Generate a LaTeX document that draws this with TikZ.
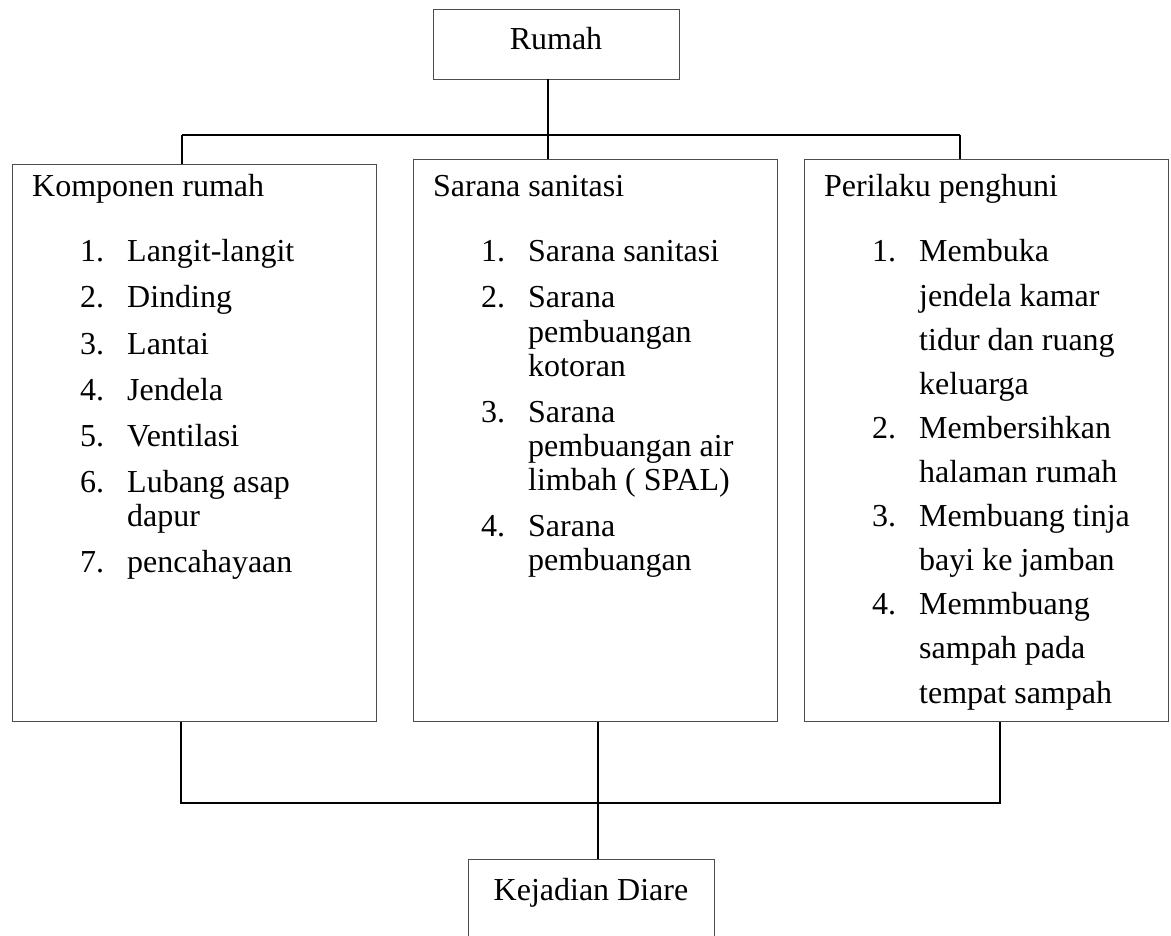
\documentclass[tikz,border=0pt]{standalone}
\usepackage{fontspec}
\setmainfont{Liberation Serif}
\begin{document}
\begin{tikzpicture}[x=1pt,y=-1pt,
  box/.style={draw=black!70, line width=1.3pt, inner sep=0pt, anchor=north west},
  conn/.style={draw=black, line width=1.5pt},
  txt/.style={anchor=base west, inner sep=0pt, font=\fontsize{32}{38}\selectfont},
  ctxt/.style={anchor=base, inner sep=0pt, font=\fontsize{32}{38}\selectfont}]
\useasboundingbox (0,0) rectangle (1171,936);
\clip (0,0) rectangle (1171,936);

% boxes
\node[box, minimum width=246pt, minimum height=70pt] (rumah) at (433,9) {};
\node[box, minimum width=364pt, minimum height=557pt] (b1) at (12,164) {};
\node[box, minimum width=364pt, minimum height=562pt] (b2) at (413,159) {};
\node[box, minimum width=364pt, minimum height=562pt] (b3) at (804,159) {};
\node[box, minimum width=246pt, minimum height=100pt] (kd) at (468,859) {};

% titles
\node[ctxt] (rumahT) at (556,50) {Rumah};
\node[ctxt] (kdT) at (591,900) {Kejadian Diare};

% box 1
\node[txt] (h1) at (32,197) {Komponen rumah};
\node[txt] (n11) at (80,262) {1.}; \node[txt] (t11) at (127,262) {Langit-langit};
\node[txt] (n12) at (80,308) {2.}; \node[txt] (t12) at (127,308) {Dinding};
\node[txt] (n13) at (80,354) {3.}; \node[txt] (t13) at (127,354) {Lantai};
\node[txt] (n14) at (80,400) {4.}; \node[txt] (t14) at (127,400) {Jendela};
\node[txt] (n15) at (80,446) {5.}; \node[txt] (t15) at (127,446) {Ventilasi};
\node[txt] (n16) at (80,492) {6.}; \node[txt] (t16) at (127,492) {Lubang asap};
\node[txt] (t16b) at (127,526) {dapur};
\node[txt] (n17) at (80,572) {7.}; \node[txt] (t17) at (127,572) {pencahayaan};

% box 2
\node[txt] (h2) at (433,197) {Sarana sanitasi};
\node[txt] (n21) at (481,262) {1.}; \node[txt] (t21) at (528,262) {Sarana sanitasi};
\node[txt] (n22) at (481,308) {2.}; \node[txt] (t22) at (528,308) {Sarana};
\node[txt] (t22b) at (528,342) {pembuangan};
\node[txt] (t22c) at (528,376) {kotoran};
\node[txt] (n23) at (481,422) {3.}; \node[txt] (t23) at (528,422) {Sarana};
\node[txt] (t23b) at (528,456) {pembuangan air};
\node[txt] (t23c) at (528,490) {limbah ( SPAL)};
\node[txt] (n24) at (481,536) {4.}; \node[txt] (t24) at (528,536) {Sarana};
\node[txt] (t24b) at (528,570) {pembuangan};

% box 3
\node[txt] (h3) at (824,197) {Perilaku penghuni};
\node[txt] (n31) at (872,262) {1.}; \node[txt] (t31) at (919,262) {Membuka};
\node[txt] (t31b) at (919,306.1) {jendela kamar};
\node[txt] (t31c) at (919,350.2) {tidur dan ruang};
\node[txt] (t31d) at (919,394.3) {keluarga};
\node[txt] (n32) at (872,438.4) {2.}; \node[txt] (t32) at (919,438.4) {Membersihkan};
\node[txt] (t32b) at (919,482.5) {halaman rumah};
\node[txt] (n33) at (872,526.6) {3.}; \node[txt] (t33) at (919,526.6) {Membuang tinja};
\node[txt] (t33b) at (919,570.7) {bayi ke jamban};
\node[txt] (n34) at (872,614.8) {4.}; \node[txt] (t34) at (919,614.8) {Memmbuang};
\node[txt] (t34b) at (919,658.9) {sampah pada};
\node[txt] (t34c) at (919,703) {tempat sampah};

% top connectors
\coordinate (rt) at (548,79);
\coordinate (hl) at (182,135);
\coordinate (hr) at (960,135);
\draw[conn] (rt) -- (rt |- b2.north);
\draw[conn] (hl) -- (hr);
\draw[conn] (hl) -- (hl |- b1.north);
\draw[conn] (hr) -- (hr |- b3.north);

% bottom connectors
\coordinate (bl) at (181,803);
\coordinate (br) at (1000,803);
\coordinate (bm) at (598,803);
\draw[conn] (bl |- b1.south) -- (bl) -- (br) -- (br |- b3.south);
\draw[conn] (bm |- b2.south) -- (bm |- kd.north);
\end{tikzpicture}
\end{document}
